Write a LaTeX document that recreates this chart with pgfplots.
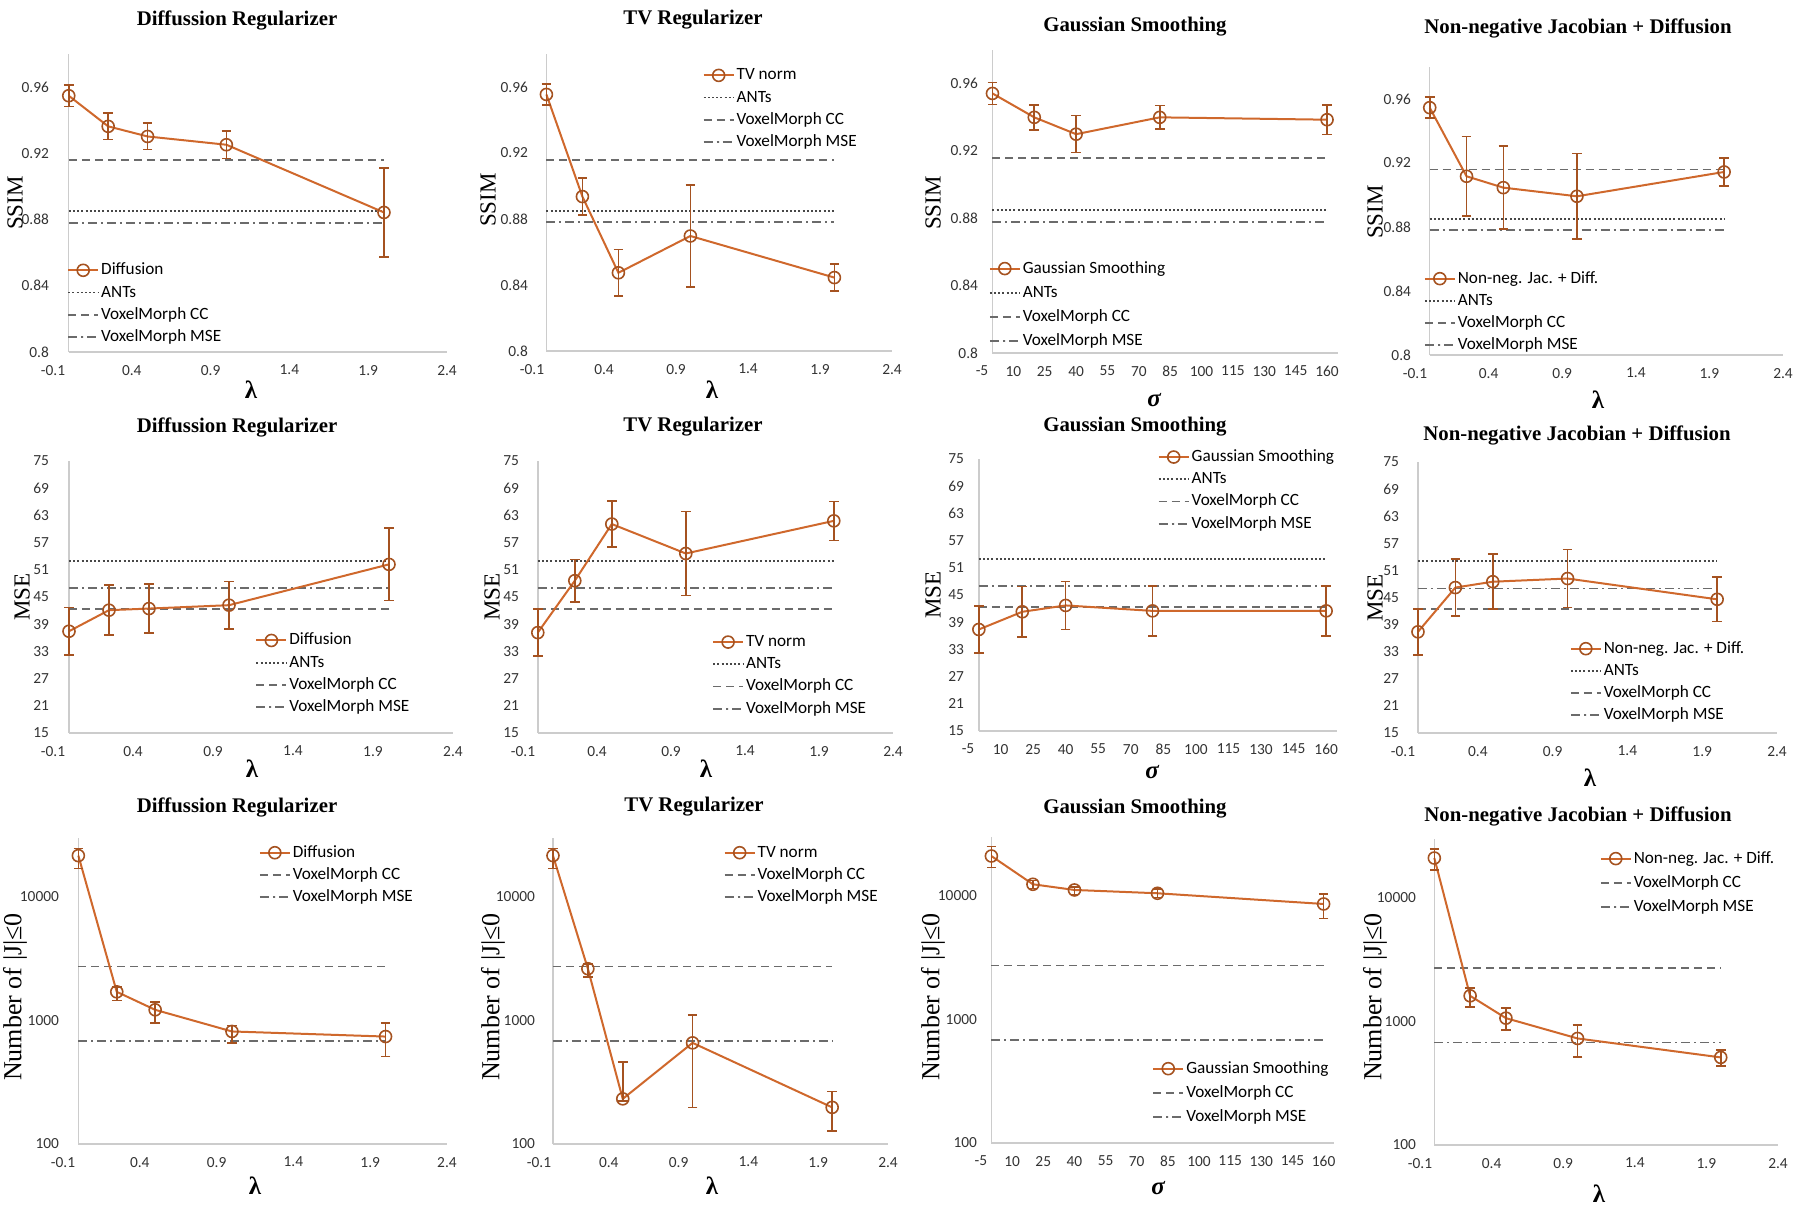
\documentclass[border=0pt]{standalone}
\usepackage{pgfplots}
\pgfplotsset{compat=1.18}
\usepackage{fontspec}
\setmainfont{Carlito}
\newfontfamily\serifb{Liberation Serif}
\definecolor{serL}{RGB}{207,104,44}
\definecolor{serD}{RGB}{165,82,32}
\tikzset{
 antsst/.style={color=black!72, line width=0.9pt, dash pattern=on 1pt off 1.1pt},
 ccst/.style={color=black!58, line width=0.9pt, dash pattern=on 4pt off 2.5pt},
 msest/.style={color=black!58, line width=0.9pt, dash pattern=on 4.5pt off 2pt on 1pt off 2pt},
 mainst/.style={color=serL, line width=1pt, mark=o, mark size=3pt, mark options={solid, draw=serD, line width=0.8pt}},
 axl/.style={draw=black!20, line width=0.7pt},
 ttl/.style={font=\serifb\bfseries\fontsize{10.4}{12}\selectfont},
 xl/.style={font=\serifb\bfseries\fontsize{12.5}{14}\selectfont},
 yl/.style={font=\serifb\fontsize{11.5}{13}\selectfont, rotate=90},
 yj/.style={font=\serifb\fontsize{13}{15}\selectfont, rotate=90},
}
\pgfplotsset{
  base/.style={
    scale only axis, anchor=south west,
    axis line style={draw=none},
    tick style={draw=none}, minor tick num=0,
    tick label style={font=\fontsize{7.7}{9}\selectfont, text=black!80},
    xticklabel style={yshift=-3pt},
    yticklabel style={xshift=1.5pt},
    /pgf/number format/assume math mode=true,
    clip=false,
    legend style={draw=none, fill=none, inner sep=0pt, anchor=north west,
      font=\fontsize{8.6}{10}\selectfont, row sep=2.6pt,
      nodes={inner xsep=1pt, inner ysep=0pt, text height=6.5pt, text depth=2pt}},
    legend cell align=left,
    legend image code/.code={\draw[mark repeat=2,mark phase=2,##1] plot coordinates {(0pt,0pt) (7.5pt,0pt) (15pt,0pt)};},
  },
  lam/.style={xmin=-0.1, xmax=2.4, xtick={-0.1,0.4,0.9,1.4,1.9,2.4}, xticklabels={-0.1,0.4,0.9,1.4,1.9,2.4}},
  sig/.style={xmin=-5, xmax=165, xtick={-5,10,...,160}, xticklabels={-5,10,25,40,55,70,85,100,115,130,145,160}},
  ssim/.style={ymin=0.8, ymax=0.98, ytick={0.8,0.84,0.88,0.92,0.96}, yticklabels={0.8,0.84,0.88,0.92,0.96}},
  mse/.style={ymin=15, ymax=75, ytick={15,21,...,75}, yticklabels={15,21,27,33,39,45,51,57,63,69,75}},
  jac/.style={ymin=100, ymax=30000, ytick={100,1000,10000}, yticklabels={100,1000,10000}},
  errs/.style={error bars/y dir=both, error bars/y explicit,
    error bars/error bar style={serD, line width=0.8pt, solid},
    error bars/error mark options={rotate=90, serD, mark size=2.4pt, line width=0.8pt}},
}
\newcommand{\axlines}[3]{\draw[axl] (axis cs:0,#2) -- (axis cs:0,#3); \draw[axl] (axis cs:0,#2) -- (axis cs:#1,#2);}
\newcommand{\legfour}{\addlegendimage{mainst}\addlegendimage{antsst}\addlegendimage{ccst}\addlegendimage{msest}}
\newcommand{\legthree}{\addlegendimage{mainst}\addlegendimage{ccst}\addlegendimage{msest}}
\begin{document}
\begin{tikzpicture}
\path[use as bounding box] (0,0) rectangle (900pt,-605.5pt);
% ===== Row 1: SSIM =====
\begin{axis}[base, lam, ssim, at={(26.5pt,-176pt)}, width=197pt, height=149pt,
  legend style={at={(0.035,0.304)}}]
\legfour
\axlines{2.4}{0.8}{0.98}
\addplot[forget plot, antsst] coordinates {(0,0.885) (2,0.885)};
\addplot[forget plot, ccst] coordinates {(0,0.916) (2,0.916)};
\addplot[forget plot, msest] coordinates {(0,0.878) (2,0.878)};
\addplot[forget plot, mainst, errs] coordinates {(0,0.9548) +- (0,0.0065) (0.25,0.9363) +- (0,0.008) (0.5,0.9302) +- (0,0.008) (1,0.9252) +- (0,0.0083) (2,0.8843) +- (0,0.027)};
\legend{Diffusion, ANTs, VoxelMorph CC, VoxelMorph MSE}
\end{axis}
\begin{axis}[base, lam, ssim, at={(266pt,-175.5pt)}, width=180pt, height=148.5pt,
  legend style={at={(0.473,0.958)}}]
\legfour
\axlines{2.4}{0.8}{0.98}
\addplot[forget plot, antsst] coordinates {(0,0.885) (2,0.885)};
\addplot[forget plot, ccst] coordinates {(0,0.916) (2,0.916)};
\addplot[forget plot, msest] coordinates {(0,0.878) (2,0.878)};
\addplot[forget plot, mainst, errs] coordinates {(0,0.9555) +- (0,0.0065) (0.25,0.8936) +- (0,0.0113) (0.5,0.8474) +- (0,0.014) (1,0.8697) +- (0,0.031) (2,0.8445) +- (0,0.0082)};
\legend{TV norm, ANTs, VoxelMorph CC, VoxelMorph MSE}
\end{axis}
\begin{axis}[base, sig, ssim, at={(491pt,-176.5pt)}, width=177.75pt, height=151.5pt,
  legend style={at={(0.018,0.308)}, row sep=3.6pt}]
\legfour
\axlines{165}{0.8}{0.98}
\addplot[forget plot, antsst] coordinates {(0,0.885) (160,0.885)};
\addplot[forget plot, ccst] coordinates {(0,0.916) (160,0.916)};
\addplot[forget plot, msest] coordinates {(0,0.878) (160,0.878)};
\addplot[forget plot, mainst, errs] coordinates {(0,0.9542) +- (0,0.0065) (20,0.94) +- (0,0.0075) (40,0.93) +- (0,0.011) (80,0.94) +- (0,0.007) (160,0.9386) +- (0,0.0087)};
\legend{Gaussian Smoothing, ANTs, VoxelMorph CC, VoxelMorph MSE}
\end{axis}
\begin{axis}[base, lam, ssim, at={(707.5pt,-177.5pt)}, width=184pt, height=144pt,
  legend style={at={(0.023,0.296)}}]
\legfour
\axlines{2.4}{0.8}{0.98}
\addplot[forget plot, antsst] coordinates {(0,0.885) (2,0.885)};
\addplot[forget plot, ccst] coordinates {(0,0.916) (2,0.916)};
\addplot[forget plot, msest] coordinates {(0,0.878) (2,0.878)};
\addplot[forget plot, mainst, errs] coordinates {(0,0.9546) +- (0,0.0065) (0.25,0.9117) +- (0,0.0248) (0.5,0.9046) +- (0,0.026) (1,0.8992) +- (0,0.0267) (2,0.9144) +- (0,0.0088)};
\legend{Non-neg. Jac. + Diff., ANTs, VoxelMorph CC, VoxelMorph MSE}
\end{axis}
% ===== Row 2: MSE =====
\begin{axis}[base, lam, mse, at={(26.5pt,-366.5pt)}, width=200pt, height=136pt,
  legend style={at={(0.505,0.373)}}]
\legfour
\axlines{2.4}{15}{75}
\addplot[forget plot, antsst] coordinates {(0,53) (2,53)};
\addplot[forget plot, ccst] coordinates {(0,42.4) (2,42.4)};
\addplot[forget plot, msest] coordinates {(0,47) (2,47)};
\addplot[forget plot, mainst, errs] coordinates {(0,37.45) +- (0,5.2) (0.25,42.1) +- (0,5.5) (0.5,42.45) +- (0,5.4) (1,43.2) +- (0,5.2) (2,52.2) +- (0,8)};
\legend{Diffusion, ANTs, VoxelMorph CC, VoxelMorph MSE}
\end{axis}
\begin{axis}[base, lam, mse, at={(261.5pt,-366.5pt)}, width=185pt, height=136pt,
  legend style={at={(0.51,0.367)}}]
\legfour
\axlines{2.4}{15}{75}
\addplot[forget plot, antsst] coordinates {(0,53) (2,53)};
\addplot[forget plot, ccst] coordinates {(0,42.4) (2,42.4)};
\addplot[forget plot, msest] coordinates {(0,47) (2,47)};
\addplot[forget plot, mainst, errs] coordinates {(0,37.15) +- (0,5.2) (0.25,48.6) +- (0,4.7) (0.5,61.1) +- (0,5.1) (1,54.6) +- (0,9.3) (2,61.8) +- (0,4.3)};
\legend{TV norm, ANTs, VoxelMorph CC, VoxelMorph MSE}
\end{axis}
\begin{axis}[base, sig, mse, at={(484pt,-365.5pt)}, width=184.5pt, height=136pt,
  legend style={at={(0.513,1.04)}}]
\legfour
\axlines{165}{15}{75}
\addplot[forget plot, antsst] coordinates {(0,53) (160,53)};
\addplot[forget plot, ccst] coordinates {(0,42.4) (160,42.4)};
\addplot[forget plot, msest] coordinates {(0,47) (160,47)};
\addplot[forget plot, mainst, errs] coordinates {(0,37.4) +- (0,5.2) (20,41.3) +- (0,5.6) (40,42.7) +- (0,5.3) (80,41.5) +- (0,5.5) (160,41.5) +- (0,5.5)};
\legend{Gaussian Smoothing, ANTs, VoxelMorph CC, VoxelMorph MSE}
\end{axis}
\begin{axis}[base, lam, mse, at={(701.5pt,-366.5pt)}, width=187pt, height=135.5pt,
  legend style={at={(0.445,0.344)}}]
\legfour
\axlines{2.4}{15}{75}
\addplot[forget plot, antsst] coordinates {(0,53) (2,53)};
\addplot[forget plot, ccst] coordinates {(0,42.4) (2,42.4)};
\addplot[forget plot, msest] coordinates {(0,47) (2,47)};
\addplot[forget plot, mainst, errs] coordinates {(0,37.4) +- (0,5.1) (0.25,47.2) +- (0,6.3) (0.5,48.5) +- (0,6.1) (1,49.2) +- (0,6.4) (2,44.6) +- (0,4.9)};
\legend{Non-neg. Jac. + Diff., ANTs, VoxelMorph CC, VoxelMorph MSE}
\end{axis}
% ===== Row 3: Jacobian =====
\begin{axis}[base, lam, ymode=log, jac, at={(31.5pt,-572pt)}, width=192pt, height=153pt,
  legend style={at={(0.509,0.981)}}]
\legthree
\axlines{2.4}{100}{30000}
\addplot[forget plot, ccst] coordinates {(0,2740) (2,2740)};
\addplot[forget plot, msest] coordinates {(0,680) (2,680)};
\addplot[forget plot, mainst, errs] coordinates {(0,21600) += (0,3060) -= (0,4630) (0.25,1706) += (0,156) -= (0,254) (0.5,1220) += (0,188) -= (0,270) (1,815) += (0,96) -= (0,156) (2,741) += (0,209) -= (0,230)};
\legend{Diffusion, VoxelMorph CC, VoxelMorph MSE}
\end{axis}
\begin{axis}[base, lam, ymode=log, jac, at={(269.5pt,-572pt)}, width=174.5pt, height=153pt,
  legend style={at={(0.528,0.981)}}]
\legthree
\axlines{2.4}{100}{30000}
\addplot[forget plot, ccst] coordinates {(0,2740) (2,2740)};
\addplot[forget plot, msest] coordinates {(0,680) (2,680)};
\addplot[forget plot, mainst, errs] coordinates {(0,21600) += (0,3060) -= (0,4630) (0.25,2625) += (0,253) -= (0,380) (0.5,232) += (0,227) -= (0,8) (1,659) += (0,453) -= (0,461) (2,198) += (0,69) -= (0,71)};
\legend{TV norm, VoxelMorph CC, VoxelMorph MSE}
\end{axis}
\begin{axis}[base, sig, ymode=log, jac, at={(490.5pt,-571.5pt)}, width=176.5pt, height=153pt,
  legend style={at={(0.484,0.272)}, row sep=3.6pt}]
\legthree
\axlines{165}{100}{30000}
\addplot[forget plot, ccst] coordinates {(0,2740) (160,2740)};
\addplot[forget plot, msest] coordinates {(0,680) (160,680)};
\addplot[forget plot, mainst, errs] coordinates {(0,21040) += (0,4040) -= (0,4100) (20,12430) += (0,870) -= (0,900) (40,11180) += (0,650) -= (0,870) (80,10510) += (0,880) -= (0,810) (160,8610) += (0,1770) -= (0,2020)};
\legend{Gaussian Smoothing, VoxelMorph CC, VoxelMorph MSE}
\end{axis}
\begin{axis}[base, lam, ymode=log, jac, at={(710pt,-572.5pt)}, width=179pt, height=153pt,
  legend style={at={(0.501,0.965)}, row sep=3.6pt}]
\legthree
\axlines{2.4}{100}{30000}
\addplot[forget plot, ccst] coordinates {(0,2700) (2,2700)};
\addplot[forget plot, msest] coordinates {(0,676) (2,676)};
\addplot[forget plot, mainst, errs] coordinates {(0,21040) += (0,3860) -= (0,4210) (0.25,1613) += (0,247) -= (0,298) (0.5,1064) += (0,218) -= (0,207) (1,729) += (0,204) -= (0,211) (2,512) += (0,74) -= (0,76)};
\legend{Non-neg. Jac. + Diff., VoxelMorph CC, VoxelMorph MSE}
\end{axis}
% ===== Titles =====
\node[ttl] at (118.5pt,-10pt) {Diffussion Regularizer};
\node[ttl] at (346.5pt,-10pt) {TV Regularizer};
\node[ttl] at (567.5pt,-13.5pt) {Gaussian Smoothing};
\node[ttl] at (789pt,-14pt) {Non-negative Jacobian + Diffusion};
\node[ttl] at (118.5pt,-213.5pt) {Diffussion Regularizer};
\node[ttl] at (346.5pt,-213.5pt) {TV Regularizer};
\node[ttl] at (567.5pt,-213.5pt) {Gaussian Smoothing};
\node[ttl] at (788.5pt,-217.5pt) {Non-negative Jacobian + Diffusion};
\node[ttl] at (118.5pt,-403.5pt) {Diffussion Regularizer};
\node[ttl] at (347pt,-403.5pt) {TV Regularizer};
\node[ttl] at (567.5pt,-404.5pt) {Gaussian Smoothing};
\node[ttl] at (789pt,-408pt) {Non-negative Jacobian + Diffusion};
% ===== X labels =====
\node[xl] at (125.5pt,-195pt) {λ};
\node[xl] at (356pt,-195pt) {λ};
\node[xl] at (577pt,-200pt) {\itshape σ};
\node[xl] at (799pt,-200pt) {λ};
\node[xl] at (126pt,-384.5pt) {λ};
\node[xl] at (353pt,-384.5pt) {λ};
\node[xl] at (576pt,-386pt) {\itshape σ};
\node[xl] at (795pt,-389pt) {λ};
\node[xl] at (127.5pt,-593pt) {λ};
\node[xl] at (356pt,-593pt) {λ};
\node[xl] at (579pt,-594pt) {\itshape σ};
\node[xl] at (799.5pt,-597pt) {λ};
% ===== Y labels =====
\node[yl] at (7.5pt,-101.5pt) {SSIM};
\node[yl] at (244pt,-100pt) {SSIM};
\node[yl] at (466.5pt,-101.5pt) {SSIM};
\node[yl] at (687.5pt,-106pt) {SSIM};
\node[yl] at (11pt,-298.5pt) {MSE};
\node[yl] at (246pt,-298.5pt) {MSE};
\node[yl] at (466.5pt,-297.5pt) {MSE};
\node[yl] at (687.5pt,-299pt) {MSE};
\node[yj] at (7.5pt,-498.5pt) {Number of |J|≤0};
\node[yj] at (246.5pt,-498.5pt) {Number of |J|≤0};
\node[yj] at (466.5pt,-498.5pt) {Number of |J|≤0};
\node[yj] at (687.5pt,-498.5pt) {Number of |J|≤0};
\end{tikzpicture}
\end{document}
